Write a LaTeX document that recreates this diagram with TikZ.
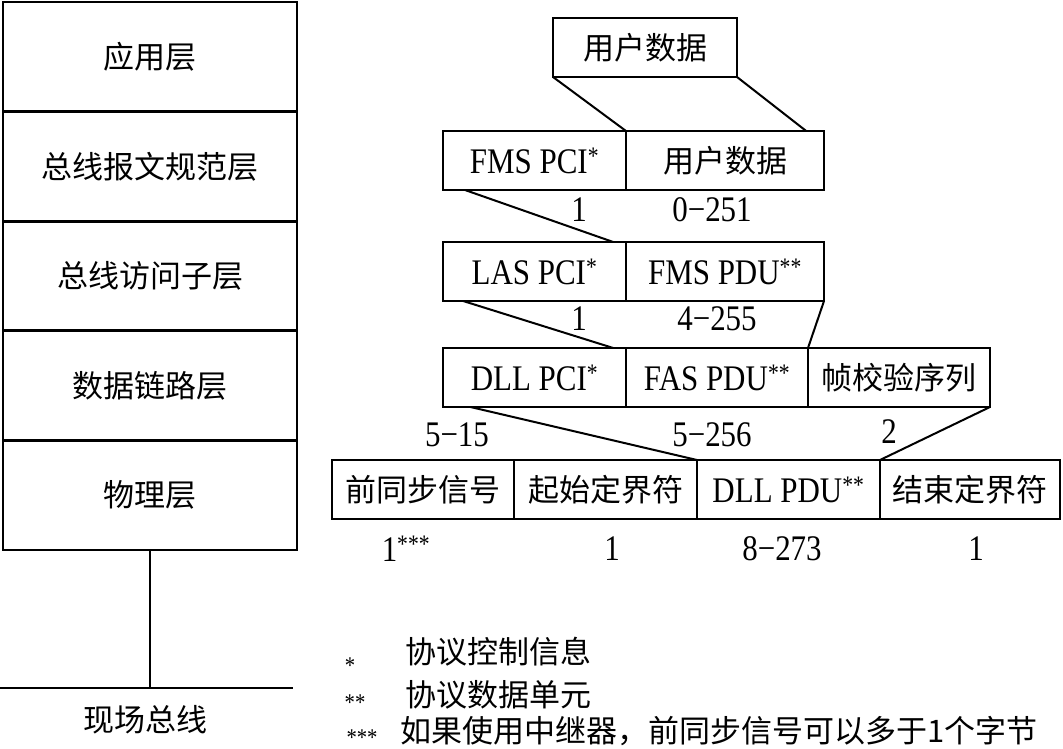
\documentclass[tikz,border=0pt]{standalone}
\usepackage{fontspec}
\setmainfont{Liberation Serif}[FakeStretch=0.86]
\newfontfamily\cjk{Noto Sans CJK SC}
\usepackage{tikz}
\usetikzlibrary{positioning,calc}
\newcommand\zhfont{\cjk\fontsize{31}{36}\selectfont}
\newcommand\enfont{\fontsize{36}{40}\selectfont}
\tikzset{
  cell/.style={draw,line width=2.8pt,outer sep=0pt,inner sep=0pt,
               minimum height=59pt},
  zhcell/.style={cell,font=\zhfont},
  encell/.style={cell,font=\enfont},
  layer/.style={draw,line width=2.8pt,outer sep=0pt,minimum width=294pt,
                minimum height=109.6pt,font=\zhfont},
  size/.style={inner sep=0pt,font=\enfont},
  note/.style={inner sep=0pt,anchor=west,font=\zhfont},
  notemark/.style={inner sep=0pt,font=\fontsize{24}{24}\selectfont},
  link/.style={line width=2pt},
}

\begin{document}
\begin{tikzpicture}[x=1pt,y=-1pt]
  \useasboundingbox (0,0) rectangle (1063,749);

  \node[layer,anchor=north west] (app) at (3,2) {应用层};
  \node[layer,below=0pt of app] (fms) {总线报文规范层};
  \node[layer,below=0pt of fms] (fas) {总线访问子层};
  \node[layer,below=0pt of fas] (dll) {数据链路层};
  \node[layer,below=0pt of dll] (phy) {物理层};
  \coordinate (busl) at (0,688);
  \coordinate (busr) at (293,688);
  \draw[link] (phy.south) -- (phy.south |- busl);
  \draw[link] (busl) -- (busr);
  \node[font=\zhfont] (buslabel) at (145,720) {现场总线};

  \node[zhcell,minimum width=184pt,anchor=north west] (data) at (553,18) {用户数据};

  \node[encell,minimum width=183pt,anchor=north west] (fmspci) at (443,131) {FMS PCI\textsuperscript{*}};
  \node[zhcell,minimum width=198pt,right=0pt of fmspci] (fmsdata) {用户数据};

  \node[encell,minimum width=183pt,anchor=north west] (laspci) at (443,242) {LAS PCI\textsuperscript{*}};
  \node[encell,minimum width=198pt,right=0pt of laspci] (fmspdu) {FMS PDU\textsuperscript{**}};

  \node[encell,minimum width=183pt,anchor=north west] (dllpci) at (443,348) {DLL PCI\textsuperscript{*}};
  \node[encell,minimum width=182pt,right=0pt of dllpci] (faspdu) {FAS PDU\textsuperscript{**}};
  \node[zhcell,minimum width=182pt,right=0pt of faspdu] (fcs) {帧校验序列};

  \node[zhcell,minimum width=182pt,anchor=north west] (pre) at (332,460) {前同步信号};
  \node[zhcell,minimum width=183pt,right=0pt of pre] (sd) {起始定界符};
  \node[encell,minimum width=183pt,right=0pt of sd] (dllpdu) {DLL PDU\textsuperscript{**}};
  \node[zhcell,minimum width=180pt,right=0pt of dllpdu] (ed) {结束定界符};

  \draw[link] (data.south west) -- (fmsdata.north west);
  \draw[link] (data.south east) -- ($(fmsdata.north west)!0.91!(fmsdata.north east)$);
  \draw[link] ($(fmspci.south west)!0.12!(fmspci.south east)$) -- ($(laspci.north west)!0.93!(laspci.north east)$);
  \draw[link] ($(laspci.south west)!0.11!(laspci.south east)$) -- ($(dllpci.north west)!0.93!(dllpci.north east)$);
  \draw[link] (fmspdu.south east) -- (faspdu.north east);
  \draw[link] ($(dllpci.south west)!0.15!(dllpci.south east)$) -- (dllpdu.north west);
  \draw[link] (fcs.south east) -- (ed.north west);

  \node[size] (szfmspci) at (579,210) {1};
  \node[size] (szfmsdata) at (712,210) {0−251};
  \node[size] (szlaspci) at (579,319) {1};
  \node[size] (szfmspdu) at (717,319) {4−255};
  \node[size] (szdllpci) at (457,435) {5−15};
  \node[size] (szfaspdu) at (712,435) {5−256};
  \node[size] (szfcs) at (889,432) {2};
  \node[size] (szpre) at (406,549) {1\textsuperscript{***}};
  \node[size] (szsd) at (612,549) {1};
  \node[size] (szdllpdu) at (782,549) {8−273};
  \node[size] (szed) at (976,549) {1};

  \node[notemark] (pcimark) at (350,666) {*};
  \node[notemark] (pdumark) at (355,703) {**};
  \node[notemark] (repmark) at (362,738) {***};
  \node[note] (pcinote) at (405,652) {协议控制信息};
  \node[note] (pdunote) at (405,695) {协议数据单元};
  \node[note] (repnote) at (400,731) {如果使用中继器，前同步信号可以多于1个字节};
\end{tikzpicture}
\end{document}
